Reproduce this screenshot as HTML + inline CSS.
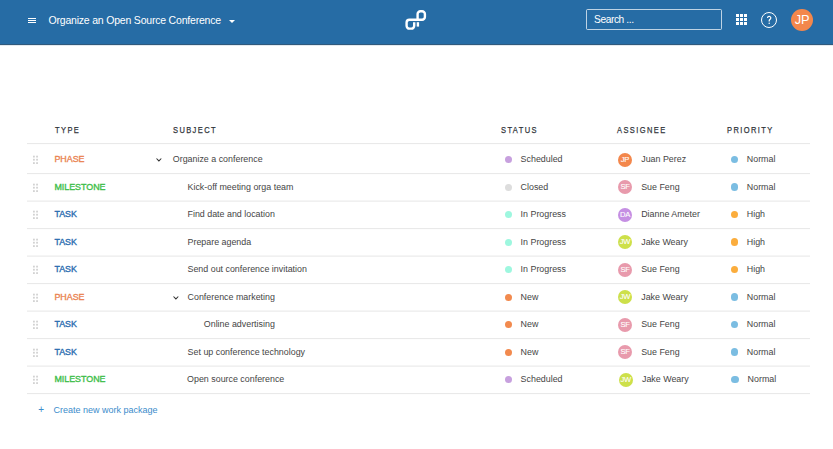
<!DOCTYPE html>
<html><head><meta charset="utf-8">
<style>
*{box-sizing:border-box;margin:0;padding:0}
html,body{width:833px;height:449px;overflow:hidden;background:#fff}
body{position:relative;font-family:"Liberation Sans",sans-serif;color:#333}
.a{position:absolute;white-space:nowrap}
#hdr{position:absolute;left:0;top:0;width:833px;height:45px;background:#266ca5;border-bottom:1px solid #30597c}
#shadow{position:absolute;left:0;top:45px;width:833px;height:1px;background:#e3e9ee}
.burger{position:absolute;left:28px;width:8px;height:1px;background:#fff}
.title{left:48.5px;top:14.3px;font-size:10.5px;line-height:12px;color:#fff;letter-spacing:-0.2px}
.caret{position:absolute;left:229px;top:20px;width:0;height:0;border-left:3px solid transparent;border-right:3px solid transparent;border-top:3.5px solid #fff}
.search{position:absolute;left:585.5px;top:9px;width:136.5px;height:21px;border:1px solid rgba(255,255,255,.7);border-radius:1.5px}
.stext{left:594px;top:14.3px;font-size:10.2px;line-height:11px;color:#fff;letter-spacing:-0.4px}
.grid{position:absolute;left:736px;top:14px;width:11px;height:11px}
.grid i{position:absolute;width:3px;height:3px;background:#fff}
.help{position:absolute;left:761px;top:12px;width:16px;height:16px;border:1px solid #fff;border-radius:50%}
.helpq{left:761px;top:15px;width:16px;text-align:center;font-size:9.5px;line-height:11px;color:#fff;font-weight:bold}
.av{position:absolute;left:791px;top:9px;width:22px;height:22px;border-radius:50%;background:#f3874c}
.avt{left:791px;top:12.6px;width:22px;text-align:center;font-size:12.8px;line-height:14px;color:#fff;letter-spacing:-0.3px}
.th{position:absolute;top:124.6px;font-size:9.4px;line-height:10px;letter-spacing:1.75px;color:#30343a;-webkit-text-stroke:0.25px #30343a;transform:scaleX(0.8);transform-origin:0 0}
.sep{position:absolute;left:27px;width:783px;height:1px;background:#e8e8e8}
.row{position:absolute;left:0;width:833px;height:28px}
.t{position:absolute;font-size:8.9px;line-height:10px;white-space:nowrap}
.ty{left:54.4px;letter-spacing:0px;-webkit-text-stroke:0.35px currentColor}
.ph{color:#ea8452}.ms{color:#40be4a}.tk{color:#2a6db0}
.sub{color:#454545}
.dot{position:absolute;width:7px;height:7px;border-radius:50%}
.pdot{position:absolute;width:7.5px;height:7.5px;border-radius:50%}
.avs{position:absolute;width:14px;height:14px;border-radius:50%;color:#fff;font-size:7.6px;line-height:14px;text-align:center;letter-spacing:-0.3px;-webkit-text-stroke:0.1px #fff}
.drag{position:absolute;left:33px;width:6px;height:8px}
.drag i{position:absolute;width:1.7px;height:1.7px;background:#d6d6d6}
.chev{position:absolute;overflow:visible}
.create{left:53.5px;top:405px;font-size:9px;line-height:10px;color:#3b8ccb}
.plus{left:38.3px;top:404.8px;font-size:10px;line-height:10px;color:#3b8ccb}
</style></head>
<body>
<div id="shadow"></div>
<div id="hdr">
  <div class="burger" style="top:18px"></div>
  <div class="burger" style="top:20px"></div>
  <div class="burger" style="top:22px"></div>
  <div class="a title">Organize an Open Source Conference</div>
  <div class="caret"></div>
  <svg style="position:absolute;left:400px;top:6px" width="32" height="28" viewBox="0 0 32 28">
    <g fill="none" stroke="#fff" stroke-width="2.4" stroke-linejoin="round">
      <path d="M14.2 16.2 V19.8 A2.8 2.8 0 0 1 11.4 22.6 H9.4 A2.8 2.8 0 0 1 6.6 19.8 V16.5 A2.8 2.8 0 0 1 9.4 13.7 H22.1 A2.8 2.8 0 0 0 24.9 10.9 V8.1 A2.8 2.8 0 0 0 22.1 5.3 H20.4 A2.8 2.8 0 0 0 17.6 8.1 V13.7"/>
      <path d="M17.9 16.2 V20.6"/>
    </g>
  </svg>
  <div class="search"></div>
  <div class="a stext">Search ...</div>
  <div class="grid">
    <i style="left:0;top:0"></i><i style="left:4px;top:0"></i><i style="left:8px;top:0"></i>
    <i style="left:0;top:4px"></i><i style="left:4px;top:4px"></i><i style="left:8px;top:4px"></i>
    <i style="left:0;top:8px"></i><i style="left:4px;top:8px"></i><i style="left:8px;top:8px"></i>
  </div>
  <div class="help"></div>
  <svg style="position:absolute;left:761px;top:12px" width="16" height="16" viewBox="0 0 16 16"><path d="M6.6 5.9 A1.6 1.6 0 1 1 9.3 7.1 Q8.2 7.7 8.2 8.7 V9.5" fill="none" stroke="#fff" stroke-width="1.25"/><circle cx="8.2" cy="11.3" r="0.75" fill="#fff"/></svg>
  <div class="av"></div>
  <div class="a avt">JP</div>
</div>

<div class="th" style="left:54.5px">TYPE</div>
<div class="th" style="left:172.8px">SUBJECT</div>
<div class="th" style="left:500.8px">STATUS</div>
<div class="th" style="left:617.1px">ASSIGNEE</div>
<div class="th" style="left:727px">PRIORITY</div>


<!--ROWS-->
<svg style="position:absolute;left:0;top:0" width="833" height="449"><rect x="27" y="143.10" width="783" height="1" fill="#e7e7e7"/><rect x="27" y="173.10" width="783" height="1" fill="#e7e7e7"/><rect x="27" y="200.60" width="783" height="1" fill="#e7e7e7"/><rect x="27" y="228.10" width="783" height="1" fill="#e7e7e7"/><rect x="27" y="255.60" width="783" height="1" fill="#e7e7e7"/><rect x="27" y="283.10" width="783" height="1" fill="#e7e7e7"/><rect x="27" y="310.60" width="783" height="1" fill="#e7e7e7"/><rect x="27" y="338.10" width="783" height="1" fill="#e7e7e7"/><rect x="27" y="365.60" width="783" height="1" fill="#e7e7e7"/><rect x="27" y="393.10" width="783" height="1" fill="#e7e7e7"/></svg>
<svg style="position:absolute;left:30px;top:153.10px" width="10" height="12"><rect x="3.00" y="2.70" width="1.8" height="1.8" fill="#d2d2d2"/><rect x="6.15" y="2.70" width="1.8" height="1.8" fill="#d2d2d2"/><rect x="3.00" y="5.80" width="1.8" height="1.8" fill="#d2d2d2"/><rect x="6.15" y="5.80" width="1.8" height="1.8" fill="#d2d2d2"/><rect x="3.00" y="9.20" width="1.8" height="1.8" fill="#d2d2d2"/><rect x="6.15" y="9.20" width="1.8" height="1.8" fill="#d2d2d2"/></svg>
<div class="t ty ph" style="top:154.1px">PHASE</div>
<svg class="chev" style="left:156.4px;top:158.3px" width="7" height="4" viewBox="0 0 7 4"><path d="M0.5 0.5 L2.9 2.9 L5.3 0.5" fill="none" stroke="#333" stroke-width="1.05"/></svg>
<div class="t sub" style="left:172.8px;top:154.1px">Organize a conference</div>
<div class="dot" style="left:505px;top:156.0px;background:#c7a0de"></div>
<div class="t sub" style="left:520.6px;top:154.1px">Scheduled</div>
<div class="avs" style="left:618.0px;top:152.9px;background:#f3874c">JP</div>
<div class="t sub" style="left:641.2px;top:154.1px">Juan Perez</div>
<div class="pdot" style="left:730.6px;top:155.7px;background:#7bbde2"></div>
<div class="t sub" style="left:746.8px;top:154.1px">Normal</div>
<svg style="position:absolute;left:30px;top:180.60px" width="10" height="12"><rect x="3.00" y="2.70" width="1.8" height="1.8" fill="#d2d2d2"/><rect x="6.15" y="2.70" width="1.8" height="1.8" fill="#d2d2d2"/><rect x="3.00" y="5.80" width="1.8" height="1.8" fill="#d2d2d2"/><rect x="6.15" y="5.80" width="1.8" height="1.8" fill="#d2d2d2"/><rect x="3.00" y="9.20" width="1.8" height="1.8" fill="#d2d2d2"/><rect x="6.15" y="9.20" width="1.8" height="1.8" fill="#d2d2d2"/></svg>
<div class="t ty ms" style="top:181.6px">MILESTONE</div>
<div class="t sub" style="left:187.5px;top:181.6px">Kick-off meeting orga team</div>
<div class="dot" style="left:505px;top:183.5px;background:#dddddd"></div>
<div class="t sub" style="left:520.6px;top:181.6px">Closed</div>
<div class="avs" style="left:618.0px;top:180.4px;background:#e89aac">SF</div>
<div class="t sub" style="left:641.2px;top:181.6px">Sue Feng</div>
<div class="pdot" style="left:730.6px;top:183.2px;background:#7bbde2"></div>
<div class="t sub" style="left:746.8px;top:181.6px">Normal</div>
<svg style="position:absolute;left:30px;top:208.10px" width="10" height="12"><rect x="3.00" y="2.70" width="1.8" height="1.8" fill="#d2d2d2"/><rect x="6.15" y="2.70" width="1.8" height="1.8" fill="#d2d2d2"/><rect x="3.00" y="5.80" width="1.8" height="1.8" fill="#d2d2d2"/><rect x="6.15" y="5.80" width="1.8" height="1.8" fill="#d2d2d2"/><rect x="3.00" y="9.20" width="1.8" height="1.8" fill="#d2d2d2"/><rect x="6.15" y="9.20" width="1.8" height="1.8" fill="#d2d2d2"/></svg>
<div class="t ty tk" style="top:209.1px">TASK</div>
<div class="t sub" style="left:187.5px;top:209.1px">Find date and location</div>
<div class="dot" style="left:505px;top:211.0px;background:#9ef7df"></div>
<div class="t sub" style="left:520.6px;top:209.1px">In Progress</div>
<div class="avs" style="left:618.0px;top:207.9px;background:#c58fe3">DA</div>
<div class="t sub" style="left:641.2px;top:209.1px">Dianne Ameter</div>
<div class="pdot" style="left:730.6px;top:210.7px;background:#fbad3d"></div>
<div class="t sub" style="left:746.8px;top:209.1px">High</div>
<svg style="position:absolute;left:30px;top:235.60px" width="10" height="12"><rect x="3.00" y="2.70" width="1.8" height="1.8" fill="#d2d2d2"/><rect x="6.15" y="2.70" width="1.8" height="1.8" fill="#d2d2d2"/><rect x="3.00" y="5.80" width="1.8" height="1.8" fill="#d2d2d2"/><rect x="6.15" y="5.80" width="1.8" height="1.8" fill="#d2d2d2"/><rect x="3.00" y="9.20" width="1.8" height="1.8" fill="#d2d2d2"/><rect x="6.15" y="9.20" width="1.8" height="1.8" fill="#d2d2d2"/></svg>
<div class="t ty tk" style="top:236.6px">TASK</div>
<div class="t sub" style="left:187.5px;top:236.6px">Prepare agenda</div>
<div class="dot" style="left:505px;top:238.5px;background:#9ef7df"></div>
<div class="t sub" style="left:520.6px;top:236.6px">In Progress</div>
<div class="avs" style="left:618.0px;top:235.4px;background:#cde04a">JW</div>
<div class="t sub" style="left:641.2px;top:236.6px">Jake Weary</div>
<div class="pdot" style="left:730.6px;top:238.2px;background:#fbad3d"></div>
<div class="t sub" style="left:746.8px;top:236.6px">High</div>
<svg style="position:absolute;left:30px;top:263.10px" width="10" height="12"><rect x="3.00" y="2.70" width="1.8" height="1.8" fill="#d2d2d2"/><rect x="6.15" y="2.70" width="1.8" height="1.8" fill="#d2d2d2"/><rect x="3.00" y="5.80" width="1.8" height="1.8" fill="#d2d2d2"/><rect x="6.15" y="5.80" width="1.8" height="1.8" fill="#d2d2d2"/><rect x="3.00" y="9.20" width="1.8" height="1.8" fill="#d2d2d2"/><rect x="6.15" y="9.20" width="1.8" height="1.8" fill="#d2d2d2"/></svg>
<div class="t ty tk" style="top:264.1px">TASK</div>
<div class="t sub" style="left:187.5px;top:264.1px">Send out conference invitation</div>
<div class="dot" style="left:505px;top:266.0px;background:#9ef7df"></div>
<div class="t sub" style="left:520.6px;top:264.1px">In Progress</div>
<div class="avs" style="left:618.0px;top:262.9px;background:#e89aac">SF</div>
<div class="t sub" style="left:641.2px;top:264.1px">Sue Feng</div>
<div class="pdot" style="left:730.6px;top:265.7px;background:#fbad3d"></div>
<div class="t sub" style="left:746.8px;top:264.1px">High</div>
<svg style="position:absolute;left:30px;top:290.60px" width="10" height="12"><rect x="3.00" y="2.70" width="1.8" height="1.8" fill="#d2d2d2"/><rect x="6.15" y="2.70" width="1.8" height="1.8" fill="#d2d2d2"/><rect x="3.00" y="5.80" width="1.8" height="1.8" fill="#d2d2d2"/><rect x="6.15" y="5.80" width="1.8" height="1.8" fill="#d2d2d2"/><rect x="3.00" y="9.20" width="1.8" height="1.8" fill="#d2d2d2"/><rect x="6.15" y="9.20" width="1.8" height="1.8" fill="#d2d2d2"/></svg>
<div class="t ty ph" style="top:291.6px">PHASE</div>
<svg class="chev" style="left:172.8px;top:295.8px" width="7" height="4" viewBox="0 0 7 4"><path d="M0.5 0.5 L2.9 2.9 L5.3 0.5" fill="none" stroke="#333" stroke-width="1.05"/></svg>
<div class="t sub" style="left:187.6px;top:291.6px">Conference marketing</div>
<div class="dot" style="left:505px;top:293.5px;background:#f28a4e"></div>
<div class="t sub" style="left:520.6px;top:291.6px">New</div>
<div class="avs" style="left:618.0px;top:290.4px;background:#cde04a">JW</div>
<div class="t sub" style="left:641.2px;top:291.6px">Jake Weary</div>
<div class="pdot" style="left:730.6px;top:293.2px;background:#7bbde2"></div>
<div class="t sub" style="left:746.8px;top:291.6px">Normal</div>
<svg style="position:absolute;left:30px;top:318.10px" width="10" height="12"><rect x="3.00" y="2.70" width="1.8" height="1.8" fill="#d2d2d2"/><rect x="6.15" y="2.70" width="1.8" height="1.8" fill="#d2d2d2"/><rect x="3.00" y="5.80" width="1.8" height="1.8" fill="#d2d2d2"/><rect x="6.15" y="5.80" width="1.8" height="1.8" fill="#d2d2d2"/><rect x="3.00" y="9.20" width="1.8" height="1.8" fill="#d2d2d2"/><rect x="6.15" y="9.20" width="1.8" height="1.8" fill="#d2d2d2"/></svg>
<div class="t ty tk" style="top:319.1px">TASK</div>
<div class="t sub" style="left:203.8px;top:319.1px">Online advertising</div>
<div class="dot" style="left:505px;top:321.0px;background:#f28a4e"></div>
<div class="t sub" style="left:520.6px;top:319.1px">New</div>
<div class="avs" style="left:618.0px;top:317.9px;background:#e89aac">SF</div>
<div class="t sub" style="left:641.2px;top:319.1px">Sue Feng</div>
<div class="pdot" style="left:730.6px;top:320.7px;background:#7bbde2"></div>
<div class="t sub" style="left:746.8px;top:319.1px">Normal</div>
<svg style="position:absolute;left:30px;top:345.60px" width="10" height="12"><rect x="3.00" y="2.70" width="1.8" height="1.8" fill="#d2d2d2"/><rect x="6.15" y="2.70" width="1.8" height="1.8" fill="#d2d2d2"/><rect x="3.00" y="5.80" width="1.8" height="1.8" fill="#d2d2d2"/><rect x="6.15" y="5.80" width="1.8" height="1.8" fill="#d2d2d2"/><rect x="3.00" y="9.20" width="1.8" height="1.8" fill="#d2d2d2"/><rect x="6.15" y="9.20" width="1.8" height="1.8" fill="#d2d2d2"/></svg>
<div class="t ty tk" style="top:346.6px">TASK</div>
<div class="t sub" style="left:187.6px;top:346.6px">Set up conference technology</div>
<div class="dot" style="left:505px;top:348.5px;background:#f28a4e"></div>
<div class="t sub" style="left:520.6px;top:346.6px">New</div>
<div class="avs" style="left:618.0px;top:345.4px;background:#e89aac">SF</div>
<div class="t sub" style="left:641.2px;top:346.6px">Sue Feng</div>
<div class="pdot" style="left:730.6px;top:348.2px;background:#7bbde2"></div>
<div class="t sub" style="left:746.8px;top:346.6px">Normal</div>
<svg style="position:absolute;left:30px;top:373.10px" width="10" height="12"><rect x="3.00" y="2.70" width="1.8" height="1.8" fill="#d2d2d2"/><rect x="6.15" y="2.70" width="1.8" height="1.8" fill="#d2d2d2"/><rect x="3.00" y="5.80" width="1.8" height="1.8" fill="#d2d2d2"/><rect x="6.15" y="5.80" width="1.8" height="1.8" fill="#d2d2d2"/><rect x="3.00" y="9.20" width="1.8" height="1.8" fill="#d2d2d2"/><rect x="6.15" y="9.20" width="1.8" height="1.8" fill="#d2d2d2"/></svg>
<div class="t ty ms" style="top:374.1px">MILESTONE</div>
<div class="t sub" style="left:187.1px;top:374.1px">Open source conference</div>
<div class="dot" style="left:505px;top:376.0px;background:#c7a0de"></div>
<div class="t sub" style="left:520.6px;top:374.1px">Scheduled</div>
<div class="avs" style="left:618.8px;top:372.9px;background:#cde04a">JW</div>
<div class="t sub" style="left:642.0px;top:374.1px">Jake Weary</div>
<div class="pdot" style="left:731.4px;top:375.7px;background:#7bbde2"></div>
<div class="t sub" style="left:747.6px;top:374.1px">Normal</div>
<!--/ROWS-->

<div class="a plus">+</div>
<div class="a create">Create new work package</div>
</body></html>
